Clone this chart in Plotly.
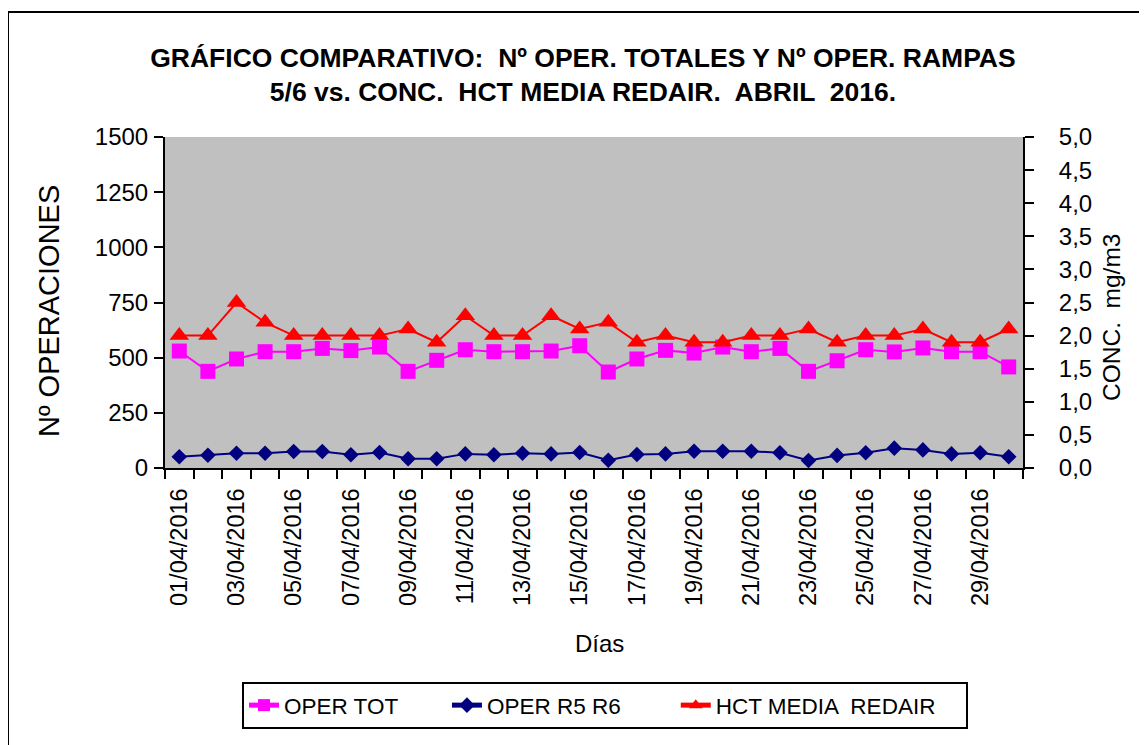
import plotly.graph_objects as go

# Datos
dias = [
    "01/04/2016", "02/04/2016", "03/04/2016", "04/04/2016", "05/04/2016",
    "06/04/2016", "07/04/2016", "08/04/2016", "09/04/2016", "10/04/2016",
    "11/04/2016", "12/04/2016", "13/04/2016", "14/04/2016", "15/04/2016",
    "16/04/2016", "17/04/2016", "18/04/2016", "19/04/2016", "20/04/2016",
    "21/04/2016", "22/04/2016", "23/04/2016", "24/04/2016", "25/04/2016",
    "26/04/2016", "27/04/2016", "28/04/2016", "29/04/2016", "30/04/2016",
]
oper_tot = [530, 438, 494, 527, 527, 542, 532, 548, 438, 488,
            536, 527, 527, 530, 554, 435, 494, 533, 521, 548,
            527, 542, 438, 486, 536, 526, 544, 527, 527, 458]
oper_r5r6 = [51, 58, 67, 67, 75, 75, 60, 70, 42, 42,
             64, 60, 67, 64, 70, 35, 61, 64, 76, 76,
             76, 69, 34, 57, 69, 90, 82, 64, 69, 51]
hct_media = [2.0, 2.0, 2.5, 2.2, 2.0, 2.0, 2.0, 2.0, 2.1, 1.9,
             2.3, 2.0, 2.0, 2.3, 2.1, 2.2, 1.9, 2.0, 1.9, 1.9,
             2.0, 2.0, 2.1, 1.9, 2.0, 2.0, 2.1, 1.9, 1.9, 2.1]

# etiquetas del eje x: una sí, una no
etiquetas_x = [d if i % 2 == 0 else "" for i, d in enumerate(dias)]

FUENTE = "Liberation Sans"
OFF = 8                 # margen del body de la página
W, H = 1147 - OFF, 745 - OFF
PX0, PX1 = 165 - OFF, 1023 - OFF     # área de trazado (px en la figura)
PY0, PY1 = 137 - OFF, 468 - OFF
PW, PH = PX1 - PX0, PY1 - PY0
NBSP = "\u00a0"         # relleno para separar las entradas de la leyenda


def px(x):
    return (x - OFF - PX0) / PW


def py(y):
    return (PY1 - (y - OFF)) / PH


fig = go.Figure()

fig.add_trace(go.Scatter(
    x=dias, y=oper_tot, name="OPER TOT" + NBSP * 7, mode="lines+markers",
    line=dict(color="#FF00FF", width=2),
    marker=dict(symbol="square", size=15, color="#FF00FF"),
))
fig.add_trace(go.Scatter(
    x=dias, y=oper_r5r6, name="OPER R5 R6" + NBSP * 8, mode="lines+markers",
    line=dict(color="#000080", width=2),
    marker=dict(symbol="diamond", size=12, color="#000080"),
))
fig.add_trace(go.Scatter(
    x=dias, y=hct_media, name="HCT MEDIA  REDAIR" + NBSP * 4, mode="lines+markers",
    line=dict(color="#FF0000", width=2),
    marker=dict(symbol="triangle-up", size=17, color="#FF0000"),
    yaxis="y2",
))

fig.update_layout(
    width=W, height=H, autosize=False,
    paper_bgcolor="white", plot_bgcolor="#C0C0C0",
    separators=",.",
    font=dict(family=FUENTE, color="black"),
    margin=dict(l=PX0, r=W - PX1, t=PY0, b=H - PY1),
    title=dict(
        text="<b>GRÁFICO COMPARATIVO:  Nº OPER. TOTALES Y Nº OPER. RAMPAS<br>"
             "5/6 vs. CONC.  HCT MEDIA REDAIR.  ABRIL  2016.</b>",
        font=dict(size=26.5, family=FUENTE), x=579 / 1147, xanchor="center",
        y=1 - 59 / H, yanchor="middle",
    ),
    xaxis=dict(
        type="category", tickmode="array", tickvals=dias, ticktext=etiquetas_x,
        tickson="boundaries", ticks="outside", ticklen=9, tickwidth=2,
        tickcolor="black", tickangle=-90, tickfont=dict(size=23.5),
        showline=True, linecolor="black", linewidth=2, showgrid=False,
        range=[-0.5, 29.5], ticklabelstandoff=9,
    ),
    yaxis=dict(
        range=[0, 1500], dtick=250, ticks="outside", ticklen=9, tickwidth=2,
        tickcolor="black", tickfont=dict(size=24), showline=True,
        linecolor="black", linewidth=2, showgrid=False, zeroline=False,
        ticklabelstandoff=1,
    ),
    yaxis2=dict(
        range=[0, 5], dtick=0.5, tickformat=".1f", overlaying="y", side="right",
        ticks="outside", ticklen=9, tickwidth=2, tickcolor="black",
        tickfont=dict(size=24), showline=True, linecolor="black", linewidth=2,
        showgrid=False, zeroline=False, ticklabelstandoff=20,
    ),
    legend=dict(
        orientation="h", x=px(605), xanchor="center", y=py(682), yanchor="top",
        font=dict(size=22.5), bordercolor="black", borderwidth=2,
        bgcolor="white", itemsizing="constant",
    ),
    showlegend=True,
    annotations=[
        dict(text="Nº OPERACIONES", xref="paper", yref="paper",
             x=px(49), y=py(311), xanchor="center", yanchor="middle",
             textangle=-90, showarrow=False, font=dict(size=29)),
        dict(text="CONC.  mg/m3", xref="paper", yref="paper",
             x=px(1111), y=py(318), xanchor="center", yanchor="middle",
             textangle=-90, showarrow=False, font=dict(size=24.5)),
        dict(text="Días", xref="paper", yref="paper",
             x=px(599), y=py(643), xanchor="center", yanchor="middle",
             showarrow=False, font=dict(size=24)),
    ],
    shapes=[
        # marco exterior del gráfico
        dict(type="rect", xref="paper", yref="paper",
             x0=px(8), x1=px(1170), y0=py(770), y1=py(12),
             line=dict(color="black", width=2), layer="below"),
    ],
)

fig.write_html("out.html")
